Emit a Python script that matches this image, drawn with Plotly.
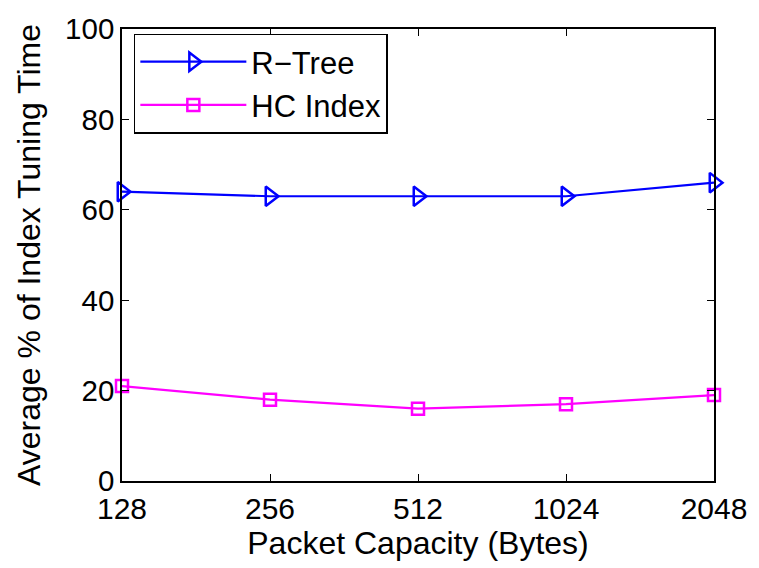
import plotly.graph_objects as go

categories = ["128", "256", "512", "1024", "2048"]
rtree = [64, 63, 63, 63, 66]
hc_index = [21, 18, 16, 17, 19]
y_ticks = [0, 20, 40, 60, 80, 100]

FONT = "Liberation Sans, Arial, Helvetica, sans-serif"

fig = go.Figure()
fig.add_trace(go.Scatter(
    x=categories, y=rtree, name="R\u2212Tree", mode="lines+markers",
    line=dict(color="#0000ff", width=2.2),
    marker=dict(symbol="triangle-right-open", size=17, color="#0000ff", line=dict(width=2.5)),
    cliponaxis=False,
))
fig.add_trace(go.Scatter(
    x=categories, y=hc_index, name="HC Index", mode="lines+markers",
    line=dict(color="#ff00ff", width=2.2),
    marker=dict(symbol="square-open", size=12, color="#ff00ff", line=dict(width=2.5)),
    cliponaxis=False,
))

axis_common = dict(
    showline=True, linecolor="black", linewidth=1.5, mirror="allticks",
    ticks="inside", ticklen=7, tickcolor="black", tickwidth=1,
    showgrid=False, zeroline=False,
)

fig.update_xaxes(
    type="category", range=[0, 4], tickvals=categories, ticktext=categories,
    tickfont=dict(family=FONT, size=30, color="black"),
    title=dict(text="Packet Capacity (Bytes)", font=dict(family=FONT, size=32, color="black"), standoff=0),
    **axis_common,
)
fig.update_yaxes(
    range=[0, 100], tickvals=y_ticks,
    tickfont=dict(family=FONT, size=29.5, color="black"),
    title=dict(text="Average % of Index Tuning Time", font=dict(family=FONT, size=32, color="black"), standoff=15),
    **axis_common,
)

fig.update_layout(
    width=759, height=568,
    margin=dict(l=122, r=42, t=21, b=87),
    plot_bgcolor="white", paper_bgcolor="white",
    font=dict(family=FONT, color="black"),
    legend=dict(
        x=0.02, y=0.99, xanchor="left", yanchor="top",
        bgcolor="white", bordercolor="black", borderwidth=1.5,
        font=dict(family=FONT, size=31, color="black"),
        itemwidth=106, tracegroupgap=0,
    ),
)

fig.write_html("out.html")
